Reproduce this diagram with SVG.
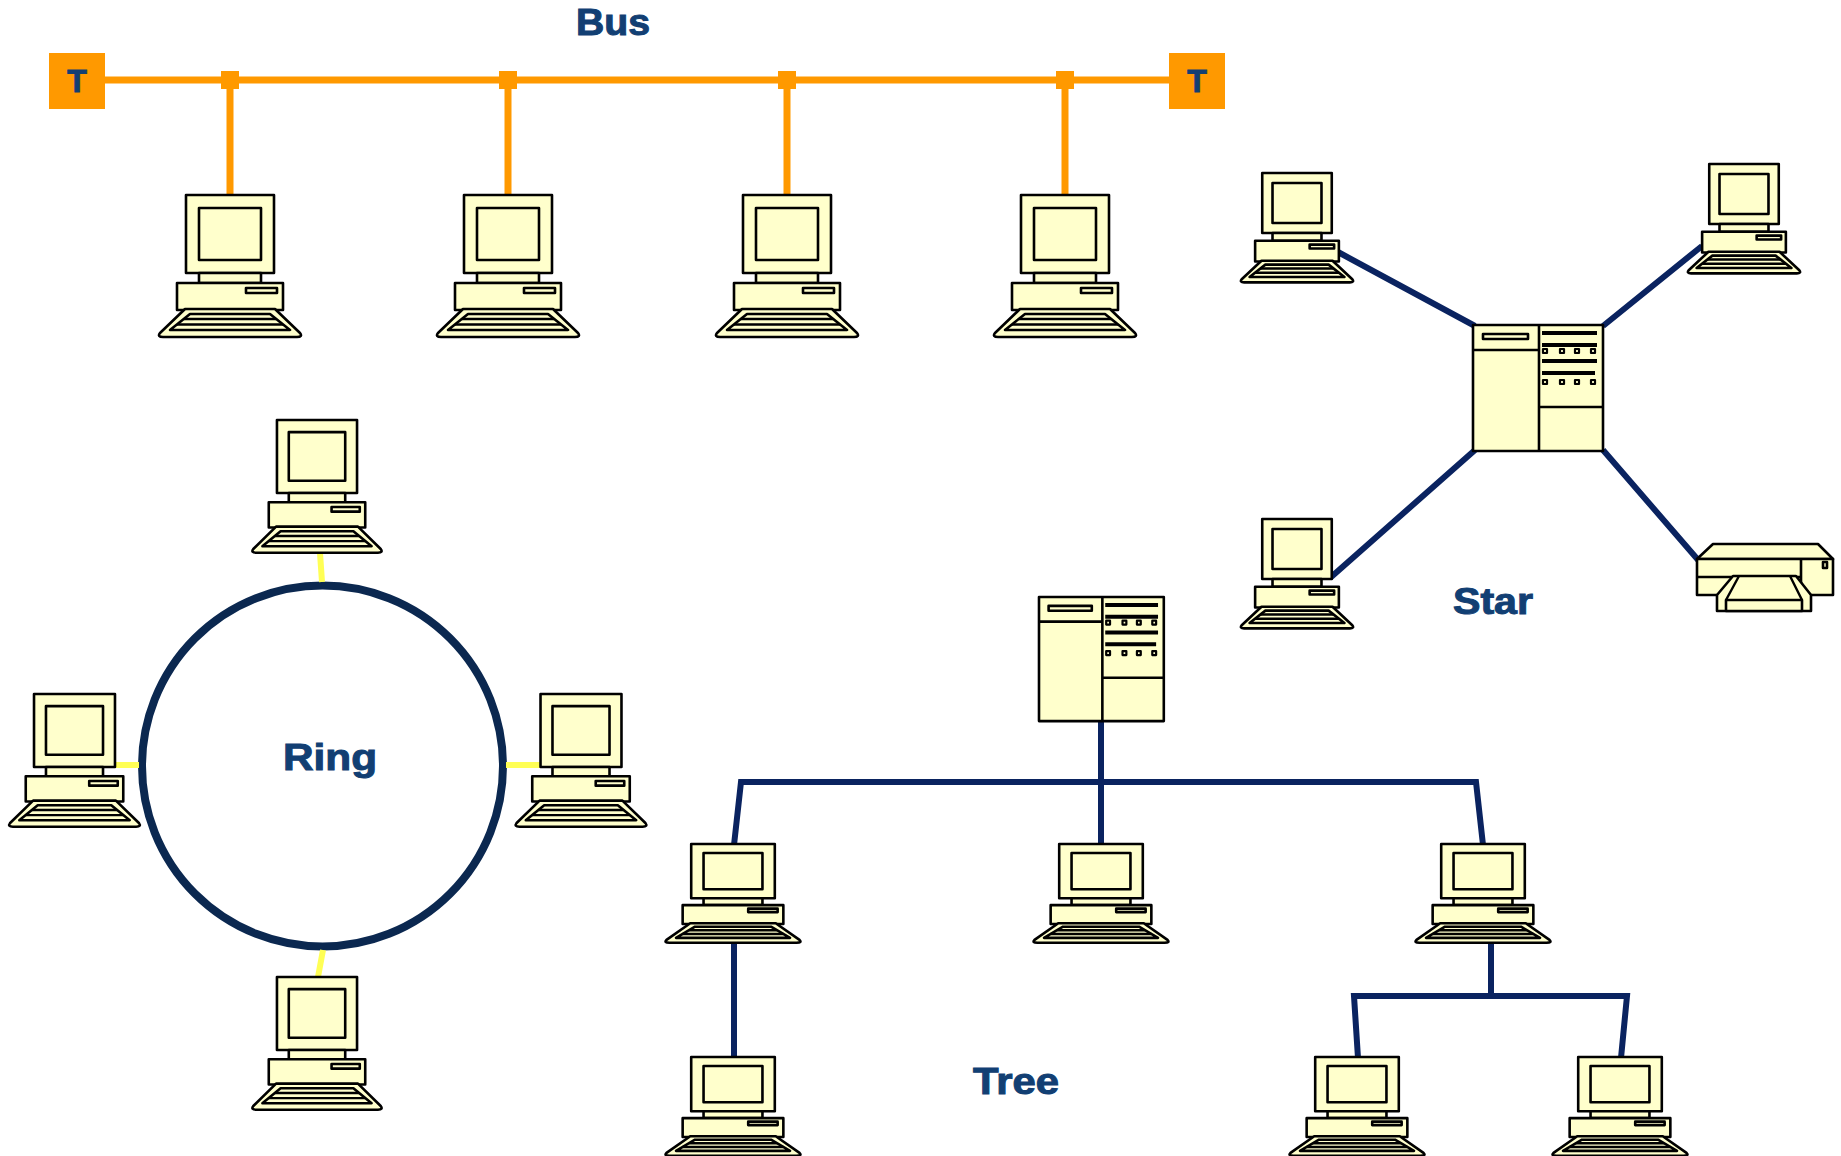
<svg xmlns="http://www.w3.org/2000/svg" xmlns:xlink="http://www.w3.org/1999/xlink" width="1841" height="1156" viewBox="0 0 1841 1156">
  <style>
    .dev * { fill: #FFFFCC; stroke: #000; stroke-width: 2.6; stroke-linejoin: round; vector-effect: non-scaling-stroke; }
    .dev .bar { stroke-width: 4; fill: none; }
    .dev .key { fill: none; stroke-width: 2.4; }
    .dev .led { stroke-width: 2.2; }
    .bus { stroke: #FF9900; stroke-width: 7; fill: none; }
    .node-box { fill: #FF9900; }
    .net { stroke: #0A2360; stroke-width: 6; fill: none; }
    .stub { stroke: #FFFF55; stroke-width: 6; fill: none; }
    .lbl { font-family: "Liberation Sans", Arial, sans-serif; font-weight: bold; fill: #123F73; stroke: #123F73; stroke-width: 1; }
  </style>
  <defs>
    <!-- desktop PC: origin at top-centre of the monitor -->
    <g id="pc" class="dev">
      <rect x="-44" y="0" width="88" height="78"/>
      <rect x="-31" y="13" width="62" height="52"/>
      <rect x="-31" y="78" width="62" height="10"/>
      <rect x="-53" y="88" width="106" height="27"/>
      <rect x="16" y="93" width="31" height="5"/>
      <path d="M-45,114 L45,114 L70,138 Q73,142 67,142 L-67,142 Q-73,142 -70,138 Z"/>
      <path d="M-40,119 L40,119 L60,135 L-60,135 Z"/>
      <path class="key" d="M-46,124 H46 M-53,129.5 H53"/>
    </g>
    <!-- server cabinet: origin at top-left -->
    <g id="server" class="dev">
      <rect x="0" y="0" width="130" height="126"/>
      <path d="M66,0 V126 M0,25 H66 M66,82 H130"/>
      <rect x="10" y="9" width="45" height="5"/>
      <path class="bar" d="M69,8 H124 M69,20 H124 M69,36 H124 M69,48 H122"/>
      <rect class="led" x="70" y="24" width="4" height="4"/>
      <rect class="led" x="87" y="24" width="4" height="4"/>
      <rect class="led" x="102" y="24" width="4" height="4"/>
      <rect class="led" x="118" y="24" width="4" height="4"/>
      <rect class="led" x="70" y="55" width="4" height="4"/>
      <rect class="led" x="87" y="55" width="4" height="4"/>
      <rect class="led" x="102" y="55" width="4" height="4"/>
      <rect class="led" x="118" y="55" width="4" height="4"/>
    </g>
  </defs>

  <!-- connectors -->
  <g id="connectors">
    <!-- bus backbone and drops -->
    <path class="bus" d="M104,80 H1169 M230,80 V196 M508,80 V196 M787,80 V196 M1065,80 V196"/>
    <rect class="node-box" x="221" y="71" width="18" height="18"/>
    <rect class="node-box" x="499" y="71" width="18" height="18"/>
    <rect class="node-box" x="778" y="71" width="18" height="18"/>
    <rect class="node-box" x="1056" y="71" width="18" height="18"/>
    <!-- star links -->
    <path class="net" d="M1338,252 L1475,326 M1702,246 L1603,326 M1330,578 L1475,450 M1603,450 L1699,561"/>
    <!-- ring -->
    <circle cx="322.5" cy="766" r="180.5" fill="none" stroke="#0B2850" stroke-width="8"/>
    <path class="stub" d="M320,553 L322,582 M115,765 H139 M506,765 H541 M323,950 L318,977"/>
    <!-- tree -->
    <path class="net" d="M1101,721 V845 M734,845 L741,782 H1476 L1483,845 M734,943 V1058 M1491,943 V996 M1358,1058 L1354,996 H1627 L1621,1058"/>
  </g>

  <!-- bus terminators -->
  <g id="term-left">
    <rect class="node-box" x="49" y="53" width="56" height="56"/>
    <text class="lbl" x="77" y="92" font-size="32" text-anchor="middle">T</text>
  </g>
  <g id="term-right">
    <rect class="node-box" x="1169" y="53" width="56" height="56"/>
    <text class="lbl" x="1197" y="92" font-size="32" text-anchor="middle">T</text>
  </g>

  <!-- bus stations -->
  <g id="bus-pc1"><use xlink:href="#pc" transform="translate(230,195)"/></g>
  <g id="bus-pc2"><use xlink:href="#pc" transform="translate(508,195)"/></g>
  <g id="bus-pc3"><use xlink:href="#pc" transform="translate(787,195)"/></g>
  <g id="bus-pc4"><use xlink:href="#pc" transform="translate(1065,195)"/></g>

  <!-- ring stations -->
  <g id="ring-pc-top"><use xlink:href="#pc" transform="translate(317,420) scale(0.91,0.935)"/></g>
  <g id="ring-pc-left"><use xlink:href="#pc" transform="translate(74.5,694) scale(0.92,0.935)"/></g>
  <g id="ring-pc-right"><use xlink:href="#pc" transform="translate(581,694) scale(0.92,0.935)"/></g>
  <g id="ring-pc-bottom"><use xlink:href="#pc" transform="translate(317,977) scale(0.91,0.935)"/></g>

  <!-- star hub and stations -->
  <g id="star-server"><use xlink:href="#server" transform="translate(1473,325)"/></g>
  <g id="star-pc-tl"><use xlink:href="#pc" transform="translate(1297,173) scale(0.79,0.77)"/></g>
  <g id="star-pc-tr"><use xlink:href="#pc" transform="translate(1744,164) scale(0.79,0.77)"/></g>
  <g id="star-pc-bl"><use xlink:href="#pc" transform="translate(1297,519) scale(0.79,0.77)"/></g>
  <g id="star-printer" class="dev">
    <path d="M1713,544 L1818,544 L1833,559 L1697,559 Z"/>
    <rect x="1697" y="559" width="136" height="36"/>
    <path d="M1697,577 H1801 M1801,559 V595"/>
    <rect x="1823" y="562" width="4" height="6"/>
    <path d="M1733,576 L1796,576 L1811,595 L1811,611 L1717,611 L1717,595 Z"/>
    <path class="key" d="M1739,576 L1726,600 M1790,576 L1802,600"/>
    <rect x="1726" y="600" width="76" height="11"/>
  </g>

  <!-- tree root and stations -->
  <g id="tree-server"><use xlink:href="#server" transform="translate(1039,597) scale(0.96,0.985)"/></g>
  <g id="tree-pc-l"><use xlink:href="#pc" transform="translate(733,844) scale(0.95,0.695)"/></g>
  <g id="tree-pc-m"><use xlink:href="#pc" transform="translate(1101,844) scale(0.95,0.695)"/></g>
  <g id="tree-pc-r"><use xlink:href="#pc" transform="translate(1483,844) scale(0.95,0.695)"/></g>
  <g id="tree-pc-ll"><use xlink:href="#pc" transform="translate(733,1057) scale(0.95,0.695)"/></g>
  <g id="tree-pc-rl"><use xlink:href="#pc" transform="translate(1357,1057) scale(0.95,0.695)"/></g>
  <g id="tree-pc-rr"><use xlink:href="#pc" transform="translate(1620,1057) scale(0.95,0.695)"/></g>

  <!-- topology titles -->
  <g id="labels">
    <text class="lbl" x="576" y="35" font-size="36" textLength="74" lengthAdjust="spacingAndGlyphs">Bus</text>
    <text class="lbl" x="283" y="770" font-size="37" textLength="94" lengthAdjust="spacingAndGlyphs">Ring</text>
    <text class="lbl" x="1453" y="614" font-size="36" textLength="80" lengthAdjust="spacingAndGlyphs">Star</text>
    <text class="lbl" x="973" y="1094" font-size="36" textLength="86" lengthAdjust="spacingAndGlyphs">Tree</text>
  </g>
</svg>
